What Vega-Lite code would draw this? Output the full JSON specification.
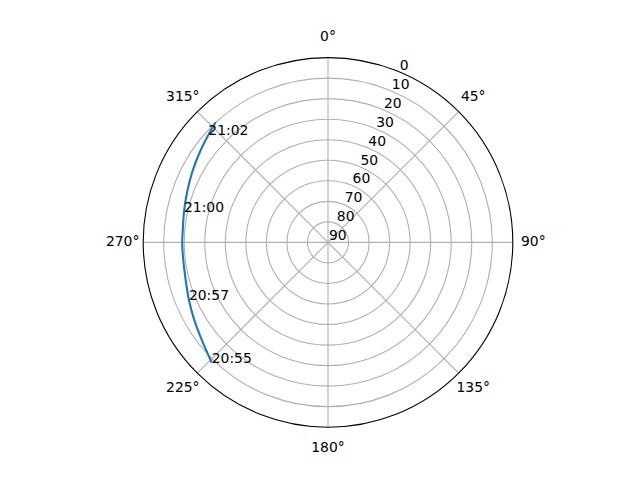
{
  "$schema": "https://vega.github.io/schema/vega-lite/v6.json",
  "width": 369.6,
  "height": 369.6,
  "autosize": {"type": "none"},
  "padding": {"left": 143.2, "top": 57.6, "right": 127.2, "bottom": 52.8},
  "background": "white",
  "config": {"view": {"stroke": null}, "font": "DejaVu Sans"},
  "datasets": {
    "rings": [{"el": 10}, {"el": 20}, {"el": 30}, {"el": 40}, {"el": 50}, {"el": 60}, {"el": 70}, {"el": 80}],
    "outer": [{"el": 0}],
    "spokes": [{"az": 0}, {"az": 45}, {"az": 90}, {"az": 135}, {"az": 180}, {"az": 225}, {"az": 270}, {"az": 315}],
    "angles": [
      {"az": 0, "label": "0°"}, {"az": 45, "label": "45°"}, {"az": 90, "label": "90°"}, {"az": 135, "label": "135°"},
      {"az": 180, "label": "180°"}, {"az": 225, "label": "225°"}, {"az": 270, "label": "270°"}, {"az": 315, "label": "315°"}
    ],
    "rlabels": [
      {"el": 0, "label": "0"}, {"el": 10, "label": "10"}, {"el": 20, "label": "20"}, {"el": 30, "label": "30"},
      {"el": 40, "label": "40"}, {"el": 50, "label": "50"}, {"el": 60, "label": "60"}, {"el": 70, "label": "70"},
      {"el": 80, "label": "80"}, {"el": 90, "label": "90"}
    ],
    "track": [
      {"i": 1, "az": 224.0, "el": 8.5, "label": "20:55"},
      {"i": 2, "az": 232.3, "el": 12.3, "label": ""},
      {"i": 3, "az": 239.9, "el": 14.7, "label": ""},
      {"i": 4, "az": 247.5, "el": 16.7, "label": "20:57"},
      {"i": 5, "az": 255.2, "el": 18.3, "label": ""},
      {"i": 6, "az": 263.1, "el": 19.0, "label": ""},
      {"i": 7, "az": 270.0, "el": 19.0, "label": ""},
      {"i": 8, "az": 275.6, "el": 19.0, "label": ""},
      {"i": 9, "az": 282.0, "el": 18.3, "label": "21:00"},
      {"i": 10, "az": 289.8, "el": 17.1, "label": ""},
      {"i": 11, "az": 297.5, "el": 15.5, "label": ""},
      {"i": 12, "az": 305.3, "el": 13.6, "label": ""},
      {"i": 13, "az": 311.9, "el": 11.7, "label": "21:02"},
      {"i": 14, "az": 316.9, "el": 9.9, "label": ""}
    ]
  },
  "resolve": {"scale": {"x": "shared", "y": "shared"}},
  "layer": [
    {
      "data": {"name": "rings"},
      "transform": [
        {"calculate": "90-datum.el", "as": "r"},
        {"calculate": "0", "as": "cx"}
      ],
      "mark": {"type": "point", "shape": "circle", "filled": false, "stroke": "#b0b0b0", "strokeWidth": 1.1, "opacity": 1},
      "encoding": {
        "x": {"field": "cx", "type": "quantitative", "scale": {"domain": [-90, 90], "nice": false, "zero": false}, "axis": null},
        "y": {"field": "cx", "type": "quantitative", "scale": {"domain": [-90, 90], "nice": false, "zero": false}, "axis": null},
        "size": {"field": "r", "type": "quantitative", "legend": null, "scale": {"type": "pow", "exponent": 2, "domain": [0, 90], "range": [0, 136604], "zero": true, "nice": false}}
      }
    },
    {
      "data": {"name": "spokes"},
      "transform": [
        {"calculate": "0", "as": "cx"},
        {"calculate": "90*sin(datum.az*PI/180)", "as": "ex"},
        {"calculate": "90*cos(datum.az*PI/180)", "as": "ey"}
      ],
      "mark": {"type": "rule", "stroke": "#b0b0b0", "strokeWidth": 1.1},
      "encoding": {
        "x": {"field": "cx", "type": "quantitative", "axis": null},
        "y": {"field": "cx", "type": "quantitative", "axis": null},
        "x2": {"field": "ex"},
        "y2": {"field": "ey"}
      }
    },
    {
      "data": {"name": "track"},
      "transform": [
        {"calculate": "(90-datum.el)*sin(datum.az*PI/180)", "as": "x"},
        {"calculate": "(90-datum.el)*cos(datum.az*PI/180)", "as": "y"}
      ],
      "mark": {"type": "line", "color": "#1f77b4", "strokeWidth": 2.1, "interpolate": "catmull-rom"},
      "encoding": {
        "x": {"field": "x", "type": "quantitative", "axis": null},
        "y": {"field": "y", "type": "quantitative", "axis": null},
        "order": {"field": "i", "type": "quantitative"}
      }
    },
    {
      "data": {"name": "track"},
      "transform": [
        {"filter": "datum.label != ''"},
        {"calculate": "(90-datum.el)*sin(datum.az*PI/180)", "as": "x"},
        {"calculate": "(90-datum.el)*cos(datum.az*PI/180)", "as": "y"}
      ],
      "mark": {"type": "text", "align": "left", "baseline": "alphabetic", "fontSize": 13.9, "color": "black"},
      "encoding": {
        "x": {"field": "x", "type": "quantitative", "axis": null},
        "y": {"field": "y", "type": "quantitative", "axis": null},
        "text": {"field": "label", "type": "nominal"}
      }
    },
    {
      "data": {"name": "outer"},
      "transform": [
        {"calculate": "90-datum.el", "as": "r"},
        {"calculate": "0", "as": "cx"}
      ],
      "mark": {"type": "point", "shape": "circle", "filled": false, "stroke": "black", "strokeWidth": 1.1, "opacity": 1},
      "encoding": {
        "x": {"field": "cx", "type": "quantitative", "axis": null},
        "y": {"field": "cx", "type": "quantitative", "axis": null},
        "size": {"field": "r", "type": "quantitative", "legend": null}
      }
    },
    {
      "data": {"name": "angles"},
      "transform": [
        {"calculate": "100*sin(datum.az*PI/180)", "as": "x"},
        {"calculate": "100*cos(datum.az*PI/180)", "as": "y"}
      ],
      "mark": {"type": "text", "align": "center", "baseline": "middle", "fontSize": 13.9, "color": "black"},
      "encoding": {
        "x": {"field": "x", "type": "quantitative", "axis": null},
        "y": {"field": "y", "type": "quantitative", "axis": null},
        "text": {"field": "label", "type": "nominal"}
      }
    },
    {
      "data": {"name": "rlabels"},
      "transform": [
        {"calculate": "(90-datum.el)*sin(22.5*PI/180)", "as": "x"},
        {"calculate": "(90-datum.el)*cos(22.5*PI/180)", "as": "y"}
      ],
      "mark": {"type": "text", "align": "left", "baseline": "alphabetic", "dx": 1, "dy": -2, "fontSize": 13.9, "color": "black"},
      "encoding": {
        "x": {"field": "x", "type": "quantitative", "axis": null},
        "y": {"field": "y", "type": "quantitative", "axis": null},
        "text": {"field": "label", "type": "nominal"}
      }
    }
  ]
}
